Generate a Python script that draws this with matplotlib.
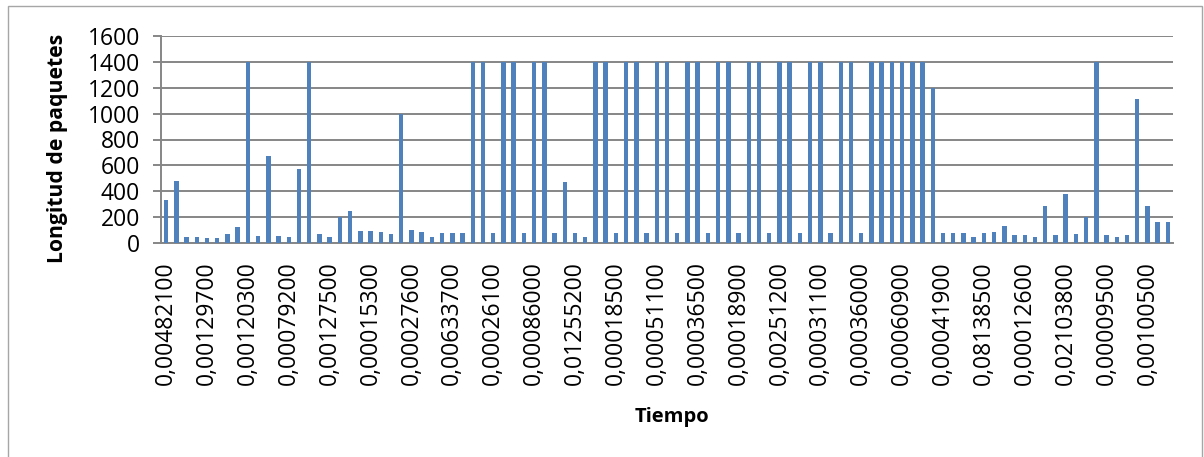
import matplotlib
matplotlib.use('Agg')
import matplotlib.pyplot as plt
import matplotlib.patches as patches

# packet lengths, one per captured packet
longitudes = [330, 480, 50, 50, 40, 40, 70, 125, 1400, 60,
              670, 60, 50, 570, 1400, 75, 50, 200, 250, 95,
              95, 88, 72, 1000, 100, 87, 50, 80, 80, 80,
              1400, 1400, 77, 1400, 1400, 77, 1400, 1400, 77, 470,
              77, 50, 1400, 1400, 77, 1400, 1400, 77, 1400, 1400,
              77, 1400, 1400, 77, 1400, 1400, 77, 1400, 1400, 77,
              1400, 1400, 77, 1400, 1400, 77, 1400, 1400, 77, 1400,
              1400, 1400, 1400, 1400, 1400, 1200, 77, 77, 77, 50,
              77, 87, 134, 62, 62, 50, 288, 62, 380, 69,
              200, 1400, 62, 50, 62, 1110, 290, 165, 165]

# only every 4th time stamp is shown on the axis
tiempos = ['0,00482100', '0,00129700', '0,00120300', '0,00079200', '0,00127500',
           '0,00015300', '0,00027600', '0,00633700', '0,00026100', '0,00086000',
           '0,01255200', '0,00018500', '0,00051100', '0,00036500', '0,00018900',
           '0,00251200', '0,00031100', '0,00036000', '0,00060900', '0,00041900',
           '0,08138500', '0,00012600', '0,02103800', '0,00009500', '0,00100500']
paso = 4

y_ticks = [0, 200, 400, 600, 800, 1000, 1200, 1400, 1600]

plt.rcParams['font.family'] = ['Open Sans', 'DejaVu Sans']

fig = plt.figure(figsize=(12.04, 4.57), dpi=100)
fig.patch.set_facecolor('white')

# outer chart border
borde = patches.Rectangle((8 / 1204, -0.05), 1194 / 1204, 1.05 - 6 / 457,
                          transform=fig.transFigure, fill=False,
                          edgecolor='#A6A6A6', linewidth=1.0)
fig.patches.append(borde)

ax = fig.add_axes([161 / 1204, 1 - 243.3 / 457, 1012 / 1204, 207.6 / 457])

x = list(range(len(longitudes)))
ax.bar(x, longitudes, width=0.44, color='#4F81BD', zorder=3)

ax.set_xlim(-0.5, len(longitudes) - 0.5)
ax.set_ylim(0, 1600)
ax.set_yticks(y_ticks)
ax.set_yticklabels([str(v) for v in y_ticks], fontsize=16.5)
ax.yaxis.grid(True, color='#868686', linewidth=1.4, zorder=0)

ax.set_xticks(list(range(0, len(longitudes), paso)))
ax.set_xticklabels(tiempos, rotation=90, fontsize=16.5, va='top', ha='center')

for s in ['top', 'right']:
    ax.spines[s].set_visible(False)
for s in ['left', 'bottom']:
    ax.spines[s].set_color('#868686')
    ax.spines[s].set_linewidth(1.4)

ax.tick_params(axis='y', length=6, width=1.4, color='#868686', pad=9)
ax.tick_params(axis='x', length=0, pad=13)

fig.text(672 / 1204, 1 - 417 / 457, 'Tiempo', ha='center', va='center',
         fontsize=14.5, fontweight='bold')
fig.text(57 / 1204, 1 - 148 / 457, 'Longitud de paquetes', ha='center', va='center',
         rotation=90, fontsize=15.2, fontweight='bold')

fig.savefig('out.png', dpi=100)
